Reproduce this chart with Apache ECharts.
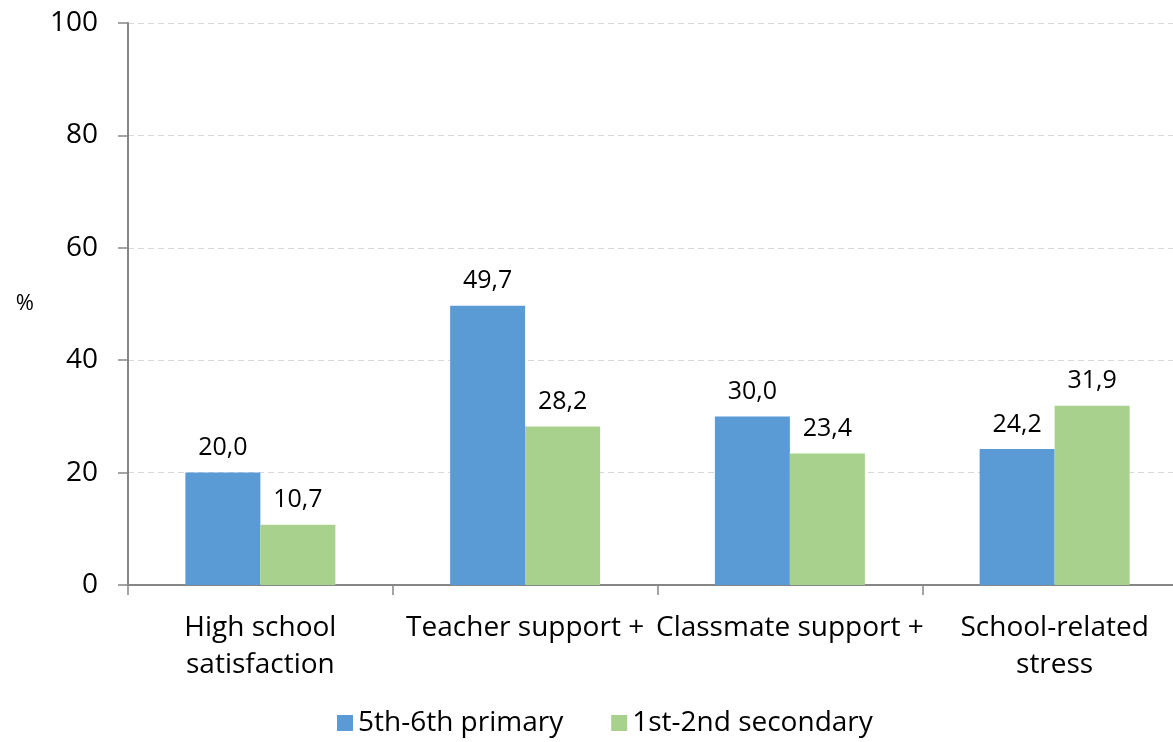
<!DOCTYPE html>
<html><head><meta charset="utf-8">
<script src="https://cdn.jsdelivr.net/npm/echarts@6/dist/echarts.min.js"></script>
<style>html,body{margin:0;padding:0;background:#fff;overflow:hidden;width:1173px;height:742px}#c{width:1187px;height:742px}</style>
</head><body><div id="c"></div>
<script>
var categories = ['High school\nsatisfaction', 'Teacher support +', 'Classmate support +', 'School-related\nstress'];
var primary = [20.0, 49.7, 30.0, 24.2];
var secondary = [10.7, 28.2, 23.4, 31.9];
var seriesNames = ['5th-6th primary', '1st-2nd secondary'];
var FONT = 'Open Sans';
var chart = echarts.init(document.getElementById('c'));
function fmt(p){ return p.value.toFixed(1).replace('.', ','); }
var lbl = {show:true, position:'top', distance:12, formatter:fmt, color:'#000', fontFamily:FONT, fontSize:25};
chart.setOption({
  animation:false,
  textStyle:{fontFamily:FONT},
  grid:{left:128, top:23, right:0, bottom:157, containLabel:false},
  legend:{bottom:0, left:332, itemWidth:16, itemHeight:16, itemGap:48, icon:'rect',
    textStyle:{fontFamily:FONT, fontSize:28, color:'#000'}, data:seriesNames},
  xAxis:{type:'category', data:categories,
    axisLine:{lineStyle:{color:'#868686', width:2}},
    axisTick:{show:true, length:10, lineStyle:{color:'#868686', width:1.5}},
    axisLabel:{color:'#000', fontFamily:FONT, fontSize:28, lineHeight:37, margin:25, interval:0}},
  yAxis:{type:'value', min:0, max:100, interval:20,
    name:'%', nameLocation:'middle', nameRotate:0, nameGap:94,
    nameTextStyle:{color:'#000', fontFamily:FONT, fontSize:22},
    axisLine:{show:true, lineStyle:{color:'#868686', width:2}},
    axisTick:{show:true, length:10, lineStyle:{color:'#868686', width:1.5}},
    axisLabel:{color:'#000', fontFamily:FONT, fontSize:28, margin:30},
    splitLine:{lineStyle:{color:'#d9d9d9', type:[6,4], width:1}}},
  series:[
    {name:seriesNames[0], type:'bar', data:primary, barWidth:75, barGap:'0%',
     itemStyle:{color:'#5b9bd5'}, label:lbl},
    {name:seriesNames[1], type:'bar', data:secondary, barWidth:75,
     itemStyle:{color:'#a9d18e'}, label:lbl}
  ]
});
</script></body></html>
